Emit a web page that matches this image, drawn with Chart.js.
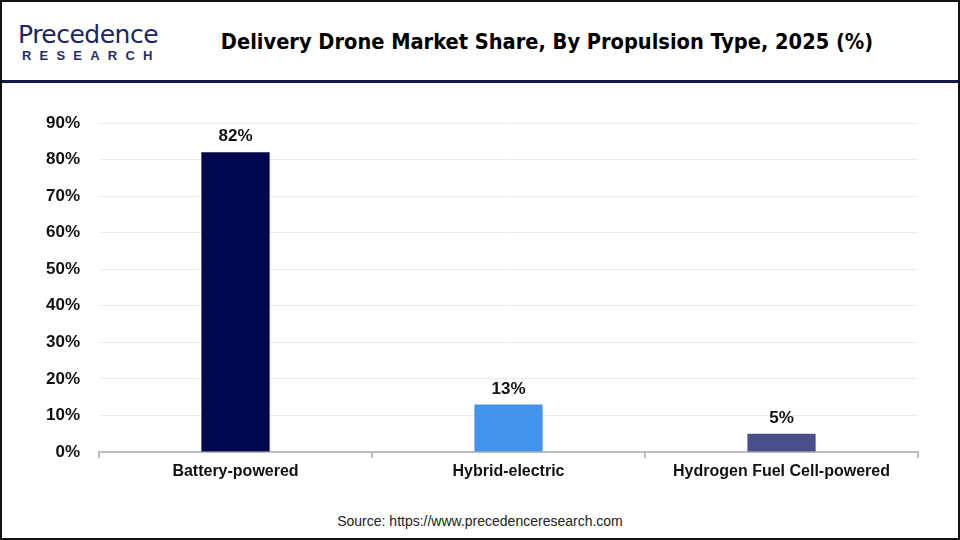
<!DOCTYPE html>
<html>
<head>
<meta charset="utf-8">
<script src="https://cdn.jsdelivr.net/npm/chart.js@4"></script>
<style>
  html, body { margin: 0; padding: 0; background: #fff; }
  #page {
    position: relative; width: 960px; height: 540px; box-sizing: border-box;
    border: 2px solid #111; overflow: hidden; font-family: "Liberation Sans", Arial, sans-serif;
  }
  #logo { position: absolute; left: 16px; top: 19px; color: #1b2566; }
  #logo .l1 { font-size: 25px; font-family: "DejaVu Sans", sans-serif; letter-spacing: -0.5px; line-height: 27px; }
  #logo .l2 { font-size: 13px; font-weight: bold; letter-spacing: 8.2px; line-height: 16px; margin-left: 4px; color: #1f2d6e; }
  #title {
    position: absolute; left: 134px; right: 0; top: 27px; text-align: center;
    font-family: "Liberation Sans Narrow", "DejaVu Sans Condensed", sans-serif;
    font-weight: bold; font-size: 21.6px; color: #000;
  }
  #rule { position: absolute; left: 0; right: 0; top: 78px; height: 3px; background: #14174a; }
  #wrap { position: absolute; left: -2px; top: 88px; width: 960px; height: 420px; }
  #source {
    position: absolute; left: 0; right: 0; top: 511px; text-align: center;
    font-size: 14px; color: #222;
  }
</style>
</head>
<body>
<div id="page">
  <div id="logo"><div class="l1">Precedence</div><div class="l2">RESEARCH</div></div>
  <div id="title">Delivery Drone Market Share, By Propulsion Type, 2025 (%)</div>
  <div id="rule"></div>
  <div id="wrap"><canvas id="shareChart" width="960" height="420"></canvas></div>
  <div id="source">Source: https://www.precedenceresearch.com</div>
</div>
<script>
"use strict"

const categories = ['Battery-powered', 'Hybrid-electric', 'Hydrogen Fuel Cell-powered']
const shares = [82, 13, 5]
const barColors = ['#01084f', '#4493ea', '#4a4e8a']
const yTicks = [0, 10, 20, 30, 40, 50, 60, 70, 80, 90]

// value labels above each bar
const valueLabels = {
    id: 'valueLabels',
    afterDatasetsDraw(chart) {
        let ctx = chart.ctx
        let meta = chart.getDatasetMeta(0)
        ctx.save()
        ctx.font = 'bold 17px "Liberation Sans", Arial, sans-serif'
        ctx.fillStyle = '#111'
        ctx.textAlign = 'center'
        ctx.textBaseline = 'bottom'
        meta.data.forEach((bar, i) => {
            ctx.fillText(shares[i] + '%', bar.x, bar.y - 7)
        })
        ctx.restore()
    }
}

let ctx = document.getElementById('shareChart').getContext('2d')
let shareChart = new Chart(ctx, {
    type: 'bar',
    data: {
        labels: categories,
        datasets: [{
            data: shares,
            backgroundColor: barColors,
            barPercentage: 0.5,
            categoryPercentage: 0.5
        }]
    },
    options: {
        responsive: false,
        animation: false,
        layout: { padding: { top: 33, right: 42, left: 0, bottom: 0 } },
        plugins: { legend: { display: false }, tooltip: { enabled: false } },
        scales: {
            x: {
                grid: {
                    offset: true,
                    drawOnChartArea: false,
                    drawTicks: true,
                    tickLength: 6,
                    color: '#bdbdbd',
                    lineWidth: 2
                },
                border: { color: '#bdbdbd', width: 2 },
                ticks: {
                    color: '#111',
                    padding: 4,
                    font: { family: '"Liberation Sans", Arial, sans-serif', size: 16, weight: 'bold' }
                },
                afterFit: scale => { scale.height = 58 }
            },
            y: {
                min: 0,
                max: 90,
                afterBuildTicks: scale => { scale.ticks = yTicks.map(v => ({ value: v })) },
                grid: { color: '#ececec', drawTicks: false },
                border: { display: false },
                ticks: {
                    padding: 19,
                    color: '#111',
                    font: { family: '"Liberation Sans", Arial, sans-serif', size: 17, weight: 'bold' },
                    callback: v => v + '%'
                },
                afterFit: scale => { scale.width = 99 }
            }
        }
    },
    plugins: [valueLabels]
})
</script>
</body>
</html>
